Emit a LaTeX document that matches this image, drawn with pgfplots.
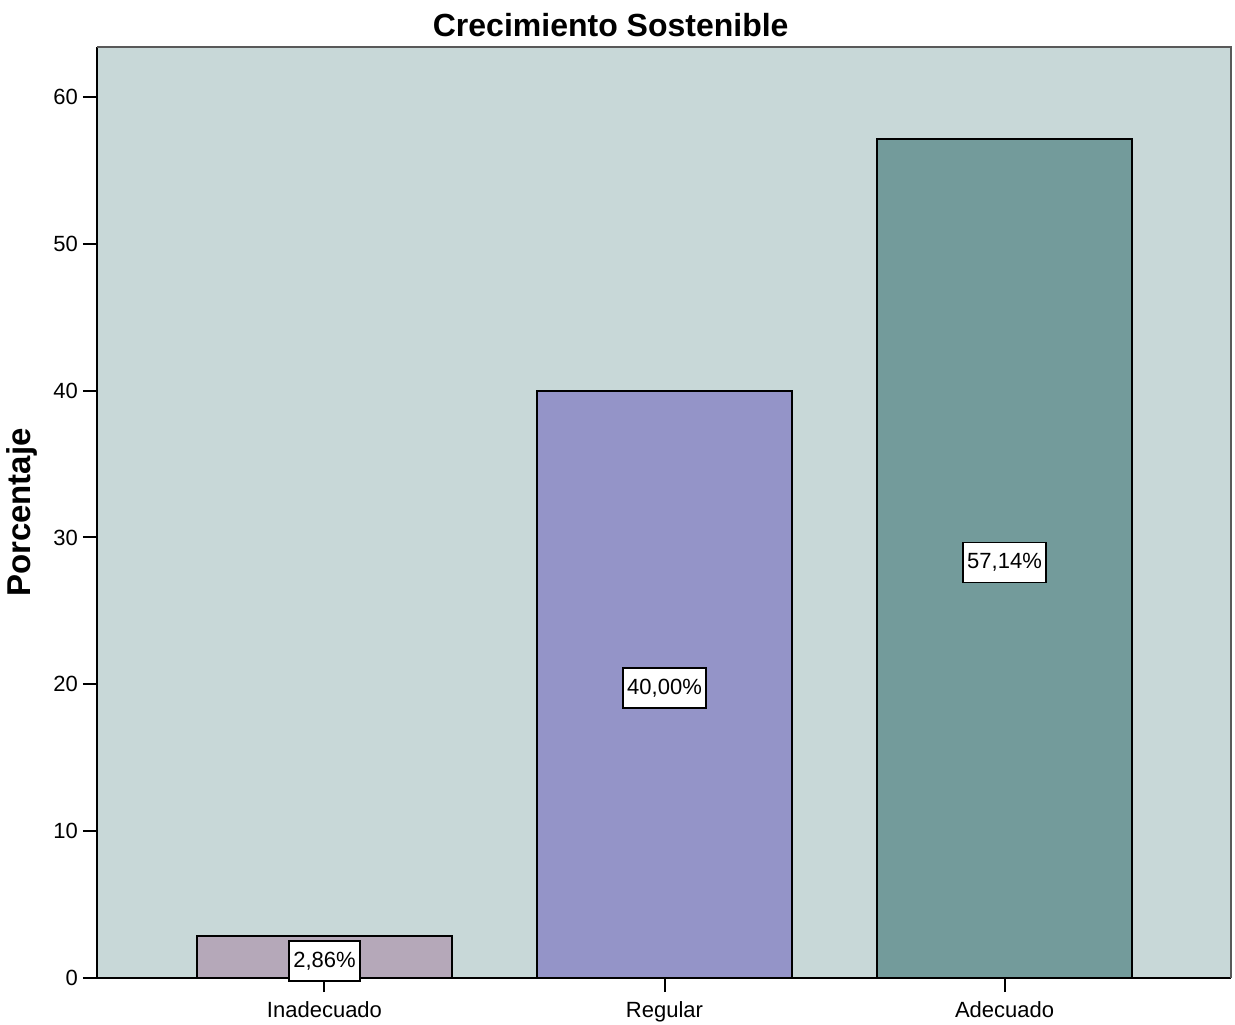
\documentclass[border=0pt]{standalone}
\usepackage{pgfplots}
\pgfplotsset{compat=1.18}
\usepackage{fontspec}
\setmainfont{Liberation Sans}
\definecolor{bgcol}{RGB}{200,216,216}
\definecolor{cA}{RGB}{181,168,185}
\definecolor{cB}{RGB}{148,148,200}
\definecolor{cC}{RGB}{115,155,155}
\begin{document}
\begin{tikzpicture}
\useasboundingbox (-48.5pt,-23pt) rectangle (569pt,489pt);
\begin{axis}[
  at={(0,0)}, anchor=south west,
  scale only axis, width=567pt, height=465.5pt,
  xmin=-0.669, xmax=2.666, ymin=0, ymax=63.4,
  axis background/.style={fill=bgcol},
  axis x line*=bottom, axis y line*=left,
  axis line style={black, line width=1pt, -},
  xtick={0,1,2}, xticklabels={Inadecuado,Regular,Adecuado},
  ytick={0,10,20,30,40,50,60},
  tick align=outside, major tick length=7pt,
  tick style={black, line width=1pt},
  /pgf/number format/assume math mode=true,
  ticklabel style={font=\fontsize{11pt}{12pt}\selectfont},
  xticklabel style={yshift=-1pt},
  yticklabel style={xshift=1pt},
  ylabel={\textbf{Porcentaje}},
  ylabel style={font=\fontsize{16.5pt}{18pt}\selectfont, at={([xshift=-37.5pt]rel axis cs:0,0.5)}, anchor=center, rotate=0},
  title={\textbf{Crecimiento Sostenible}},
  title style={font=\fontsize{16pt}{18pt}\selectfont, at={(rel axis cs:0.453,1)}, anchor=center, yshift=5pt},
  after end axis/.code={\draw[gray!70!black, line width=0.8pt] (rel axis cs:0,1) -- (rel axis cs:1,1) -- (rel axis cs:1,0);},
]
\addplot[ybar, bar width=0.75, draw=black, line width=1pt, fill=cA] coordinates {(0,2.86)};
\addplot[ybar, bar width=0.75, draw=black, line width=1pt, fill=cB] coordinates {(1,40.00)};
\addplot[ybar, bar width=0.75, draw=black, line width=1pt, fill=cC] coordinates {(2,57.14)};
\addplot[draw=none, mark=none, point meta=explicit symbolic, nodes near coords,
  nodes near coords style={anchor=center, yshift=-2pt, fill=white, draw=black, line width=0.9pt, inner xsep=2pt, inner ysep=0pt, minimum height=20pt,
  font=\fontsize{11pt}{12pt}\selectfont}]
  coordinates {(0,1.43)[2,86\%] (1,20.00)[40,00\%] (2,28.57)[57,14\%]};
\end{axis}
\end{tikzpicture}
\end{document}
